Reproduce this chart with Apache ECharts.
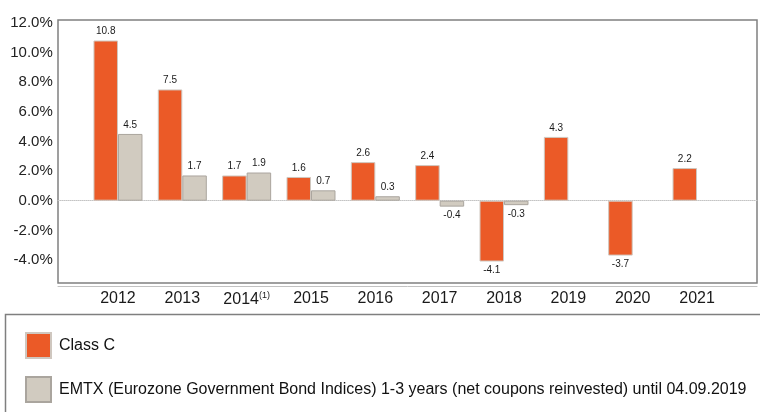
<!DOCTYPE html>
<html>
<head>
<meta charset="utf-8">
<script src="https://cdn.jsdelivr.net/npm/echarts@6/dist/echarts.min.js"></script>
<style>
html,body{margin:0;padding:0;background:#fff;}
#chart{width:760px;height:412px;}
</style>
</head>
<body>
<div id="chart"></div>
<script>
var categories = ['2012','2013','2014(1)','2015','2016','2017','2018','2019','2020','2021'];
var classC = [10.8, 7.5, 1.7, 1.6, 2.6, 2.4, -4.1, 4.3, -3.7, 2.2];
var emtx = [4.5, 1.7, 1.9, 0.7, 0.3, -0.4, -0.3, null, null, null];
var seriesNames = ['Class C', 'EMTX (Eurozone Government Bond Indices) 1-3 years (net coupons reinvested) until 04.09.2019'];
var yTicks = [-4, -2, 0, 2, 4, 6, 8, 10, 12];

var FONT = 'Liberation Sans';
var chart = echarts.init(document.getElementById('chart'), null, {renderer: 'canvas'});

function toItems(arr) {
  return arr.map(function (v) {
    if (v === null) return null;
    return {value: v, label: {position: v < 0 ? 'bottom' : 'top'}};
  });
}

var barLabel = {
  show: true,
  fontFamily: FONT,
  fontSize: 10,
  color: '#1a1a1a',
  distance: 4,
  formatter: function (p) { return p.value.toFixed(1); }
};

function legendFor(name, top) {
  return {
    left: 25,
    top: top,
    itemWidth: 25,
    itemHeight: 25,
    icon: 'rect',
    selectedMode: false,
    padding: 0,
    textStyle: {fontFamily: FONT, fontSize: 16, color: '#111', padding: [0, 0, 2, 3]},
    data: [name]
  };
}

var option = {
  backgroundColor: '#ffffff',
  animation: false,
  textStyle: {fontFamily: FONT},
  legend: [legendFor(seriesNames[0], 332), legendFor(seriesNames[1], 376)],
  graphic: [{
    type: 'rect',
    shape: {x: 5.5, y: 314.5, width: 800, height: 200},
    style: {fill: 'none', stroke: '#7f7f7f', lineWidth: 1.5},
    silent: true
  }],
  grid: [
    {left: 58, top: 20, width: 699, height: 263, show: true, borderColor: '#808080', borderWidth: 1.5, backgroundColor: 'transparent'},
    {left: 85.8, right: 30.8, top: 22.7, bottom: 122.3}
  ],
  xAxis: [
    {
      gridIndex: 0, type: 'value', min: 0, max: 1,
      axisLine: {show: true, onZero: true, lineStyle: {color: '#c4c4c4', type: [1, 1], width: 1}},
      axisTick: {show: false}, axisLabel: {show: false}, splitLine: {show: false}
    },
    {
      gridIndex: 0, type: 'value', min: 0, max: 1, position: 'bottom', offset: 3,
      axisLine: {show: true, onZero: false, lineStyle: {color: '#c2c2c2', width: 1}},
      axisTick: {show: false}, axisLabel: {show: false}, splitLine: {show: false}
    },
    {
      gridIndex: 1, type: 'category', data: categories,
      axisLine: {show: false}, axisTick: {show: false}, splitLine: {show: false},
      axisLabel: {
        interval: 0,
        margin: 1,
        fontFamily: FONT, fontSize: 16, color: '#1a1a1a',
        formatter: function (v) { return v.replace('(1)', '{sup|(1)}'); },
        rich: {sup: {fontFamily: FONT, fontSize: 9, color: '#1a1a1a', verticalAlign: 'top', padding: [0, 0, 8, 0]}}
      }
    }
  ],
  yAxis: [
    {
      gridIndex: 0, type: 'value', min: -5.548, max: 12.18, show: true,
      axisLine: {show: false}, axisTick: {show: false}, axisLabel: {show: false}, splitLine: {show: false}
    },
    {
      gridIndex: 1, type: 'value', min: -6, max: 12, interval: 2,
      axisLine: {show: false}, axisTick: {show: false}, splitLine: {show: false},
      axisLabel: {
        margin: 33,
        fontFamily: FONT, fontSize: 15, color: '#222',
        formatter: function (v) { return yTicks.indexOf(v) >= 0 ? v.toFixed(1) + '%' : ''; }
      }
    }
  ],
  series: [
    {
      name: seriesNames[0], type: 'bar', xAxisIndex: 2, yAxisIndex: 1,
      barWidth: 24.5, barGap: '0%',
      itemStyle: {color: '#EB5A27', borderColor: '#cfc7bf', borderWidth: 1},
      label: barLabel,
      data: toItems(classC)
    },
    {
      name: seriesNames[1], type: 'bar', xAxisIndex: 2, yAxisIndex: 1,
      barWidth: 24.5, barGap: '0%',
      itemStyle: {color: '#D1CBC0', borderColor: '#aaa59e', borderWidth: 1},
      label: barLabel,
      data: toItems(emtx)
    }
  ]
};
chart.setOption(option);
</script>
</body>
</html>
